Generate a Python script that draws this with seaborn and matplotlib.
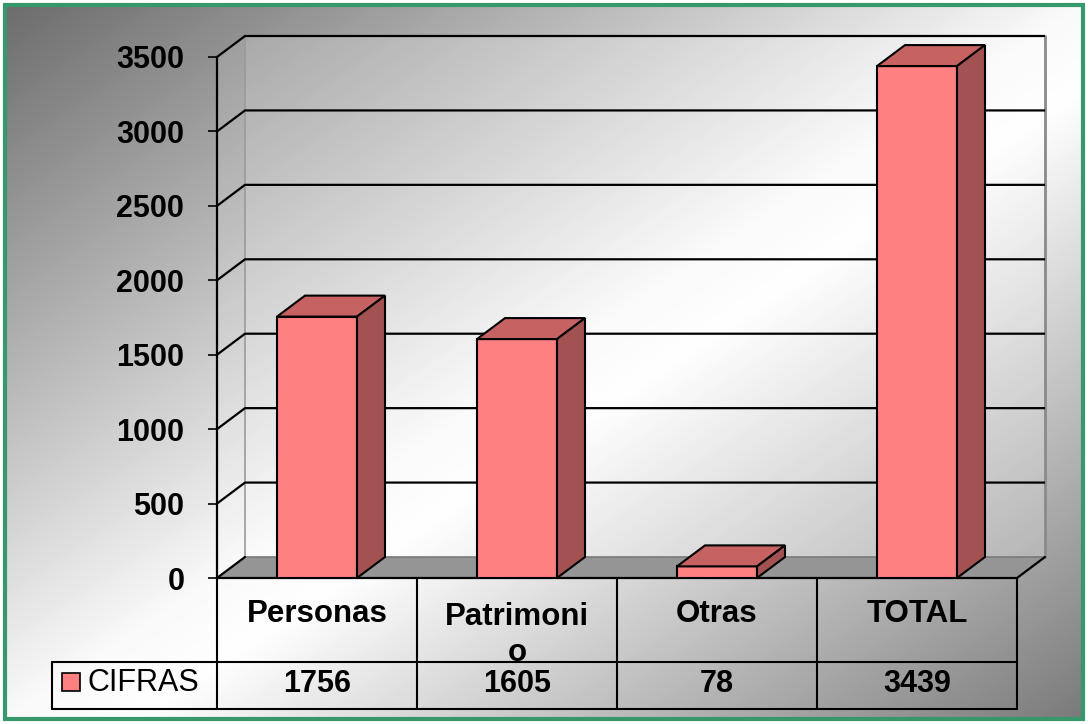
import numpy as np
import matplotlib
matplotlib.use("Agg")
import matplotlib.pyplot as plt
from matplotlib.colors import LinearSegmentedColormap
from matplotlib.patches import Polygon, Rectangle
from matplotlib.transforms import blended_transform_factory
import seaborn as sns

# ---------------------------------
# Data
# ---------------------------------
categories = ["Personas", "Patrimonio", "Otras", "TOTAL"]
category_labels = ["Personas", "Patrimoni\no", "Otras", "TOTAL"]
values = [1756, 1605, 78, 3439]
series_name = "CIFRAS"
y_ticks = [0, 500, 1000, 1500, 2000, 2500, 3000, 3500]

W, H = 1088, 724
sns.set_theme(style="white")
plt.rcParams["font.family"] = ["Liberation Sans", "DejaVu Sans"]
plt.rcParams["text.color"] = "black"
plt.rcParams["ytick.labelcolor"] = "black"

fig = plt.figure(figsize=(W / 100, H / 100), dpi=100)
fig.patch.set_facecolor("white")

# ---------------------------------
# Diagonal gradient background
# ---------------------------------
bg = fig.add_axes([3 / W, 3 / H, 1 - 6 / W, 1 - 6 / H], zorder=0)
xx, yy = np.meshgrid(np.linspace(0, 1, W), np.linspace(0, 1, H))
grad = (xx + yy) / 2
cmap = LinearSegmentedColormap.from_list(
    "bg", [(0, "#6c6c6c"), (0.5, "#fafafa"), (0.56, "#ffffff"), (1, "#7a7a7a")])
bg.imshow(grad, cmap=cmap, aspect="auto", extent=(0, 1, 0, 1), vmin=0, vmax=1)
bg.axis("off")

# ---------------------------------
# Main axes (front plane of the 3D box)
# ---------------------------------
ax = fig.add_axes([217 / W, (H - 578) / H, 800 / W, 521 / H])
ax.set_zorder(1)
ax.patch.set_alpha(0)

sns.barplot(x=categories, y=values, color="#ff8080", saturation=1, width=0.4,
            edgecolor="black", linewidth=1.5, ax=ax)
ax.set_xlim(-0.5, 3.5)
ax.set_ylim(0, 3500)

# depth offset in data units (~28px right, 21px up)
dx = 28 / 200
dy = 21 * 3500 / 521
x0, x1 = -0.5, 3.5

# walls and floor
ax.add_patch(Polygon([(x0 + dx, dy), (x1 + dx, dy), (x1 + dx, 3500 + dy), (x0 + dx, 3500 + dy)],
                     closed=True, fc="white", alpha=0.22, ec="none", zorder=0.2, clip_on=False))
ax.add_patch(Polygon([(x0, 0), (x0 + dx, dy), (x0 + dx, 3500 + dy), (x0, 3500)],
                     closed=True, fc="white", alpha=0.12, ec="none", zorder=0.2, clip_on=False))
ax.add_patch(Polygon([(x0, 0), (x1, 0), (x1 + dx, dy), (x0 + dx, dy)],
                     closed=True, fc="#959595", ec="none", zorder=0.5, clip_on=False))

for v in y_ticks[1:]:
    ax.plot([x0, x0 + dx, x1 + dx], [v, v + dy, v + dy], color="black", lw=1.6,
            zorder=1, clip_on=False, solid_capstyle="butt")
ax.plot([x0, x0 + dx], [0, dy], color="black", lw=1.6, zorder=1, clip_on=False)
ax.plot([x0 + dx, x1 + dx], [dy, dy], color="#7a7a7a", lw=1.2, zorder=0.6, clip_on=False)
ax.plot([x0 + dx, x0 + dx], [dy, 3500 + dy], color="#9a9a9a", lw=1.2, zorder=0.6, clip_on=False)
ax.plot([x1 + dx, x1 + dx], [dy, 3500 + dy], color="#8a8a8a", lw=2, zorder=0.6, clip_on=False)
ax.plot([x0, x1, x1 + dx], [0, 0, dy], color="black", lw=1.6, zorder=2, clip_on=False)

# 3D faces for each bar
for p in ax.patches[:]:
    if not isinstance(p, Rectangle):
        continue
    bx, bw, bh = p.get_x(), p.get_width(), p.get_height()
    p.set_zorder(3)
    ax.add_patch(Polygon([(bx, bh), (bx + bw, bh), (bx + bw + dx, bh + dy), (bx + dx, bh + dy)],
                         closed=True, fc="#c66262", ec="black", lw=1.5, zorder=3, clip_on=False))
    ax.add_patch(Polygon([(bx + bw, 0), (bx + bw + dx, dy), (bx + bw + dx, bh + dy), (bx + bw, bh)],
                         closed=True, fc="#a35252", ec="black", lw=1.5, zorder=3, clip_on=False))

# axis styling
for s in ["top", "right", "bottom"]:
    ax.spines[s].set_visible(False)
ax.spines["left"].set_color("black")
ax.spines["left"].set_linewidth(1.6)
ax.set_yticks(y_ticks)
ax.set_yticklabels([str(v) for v in y_ticks], fontsize=22, fontweight="bold", color="black")
ax.tick_params(axis="y", left=True, length=6.5, width=1.2, color="black", pad=17)
ax.set_xticks([])
ax.set_xlabel("")
ax.set_ylabel("")

# ---------------------------------
# Data table below the chart
# ---------------------------------
trans = blended_transform_factory(ax.transData, ax.transAxes)


def ay(px):
    return (578 - px) / 521


leg_x = x0 - 165 / 200
line_kw = dict(color="black", lw=1.5, transform=trans, clip_on=False, zorder=2)
for xv in [x0, 0.5, 1.5, 2.5, x1]:
    ax.plot([xv, xv], [ay(578), ay(709)], **line_kw)
ax.plot([leg_x, x1], [ay(662), ay(662)], **line_kw)
ax.plot([leg_x, x1], [ay(709), ay(709)], **line_kw)
ax.plot([leg_x, leg_x], [ay(662), ay(709)], **line_kw)

for i, lab in enumerate(category_labels):
    if "\n" in lab:
        ax.text(i, ay(602), lab, transform=trans, ha="center", va="top",
                fontsize=22.5, fontweight="bold", linespacing=1.28, color="black")
    else:
        ax.text(i, ay(614), lab, transform=trans, ha="center", va="center",
                fontsize=22.5, fontweight="bold", color="black")
for i, v in enumerate(values):
    ax.text(i, ay(684), str(v), transform=trans, ha="center", va="center",
            fontsize=22, fontweight="bold", color="black")

ax.add_patch(Rectangle((x0 + (62 - 217) / 200, ay(691)), 18 / 200, 18 / 521, transform=trans,
                       fc="#ff8080", ec="black", lw=1.2, clip_on=False, zorder=3))
ax.text(x0 + (88 - 217) / 200, ay(683), series_name, transform=trans, ha="left",
        va="center", fontsize=22, color="black")

# green frame
fig.patches.append(Rectangle((5 / W, 5 / H), 1 - 10 / W, 1 - 10 / H, transform=fig.transFigure,
                             fill=False, ec="#37996b", lw=3, zorder=10))

fig.savefig("out.png", dpi=100)
